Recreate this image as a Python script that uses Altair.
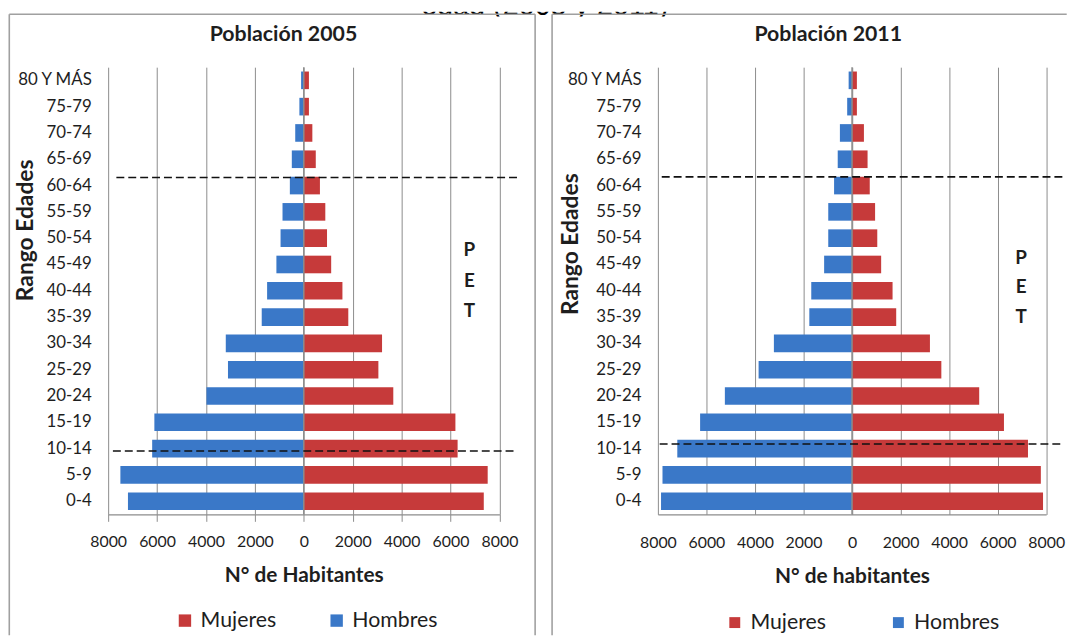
import altair as alt
import pandas as pd

# ---------------- data ----------------
ages = ["0-4", "5-9", "10-14", "15-19", "20-24", "25-29", "30-34", "35-39",
        "40-44", "45-49", "50-54", "55-59", "60-64", "65-69", "70-74",
        "75-79", "80 Y MÁS"]
hombres_2005 = [7190, 7500, 6200, 6110, 3980, 3100, 3190, 1720, 1500, 1120,
                950, 870, 570, 490, 350, 180, 110]
mujeres_2005 = [7360, 7520, 6290, 6200, 3660, 3050, 3200, 1820, 1580, 1120,
                950, 880, 660, 490, 350, 210, 210]
hombres_2011 = [7870, 7810, 7200, 6260, 5240, 3850, 3220, 1760, 1680, 1150,
                980, 980, 740, 590, 500, 200, 140]
mujeres_2011 = [7870, 7780, 7250, 6260, 5240, 3680, 3210, 1820, 1670, 1200,
                1040, 950, 730, 640, 490, 200, 200]
sexos = ["Mujeres", "Hombres"]
colores = ["#C63A3A", "#3A78C8"]
ticks = [-8000, -6000, -4000, -2000, 0, 2000, 4000, 6000, 8000]
caption = "edad (2005 y 2011)"

FONT = "Lato"
TXT = "#1e1e1e"
GRID = "#8c8c8c"
FRAME = "#a0a0a0"
PLOT_H = 451


def panel(hombres, mujeres, p):
    rows = []
    for a, hv, mv in zip(ages, hombres, mujeres):
        rows.append({"edad": a, "sexo": "Hombres", "valor": -hv})
        rows.append({"edad": a, "sexo": "Mujeres", "valor": mv})
    df = pd.DataFrame(rows)
    order = list(reversed(ages))

    x = alt.X(
        "valor:Q",
        scale=alt.Scale(domain=[-8000, 8000], nice=False),
        axis=alt.Axis(
            values=ticks, labelExpr="format(abs(datum.value), 'd')",
            grid=True, gridColor=GRID, gridWidth=1,
            domainColor=GRID, domainWidth=1.5,
            tickColor=GRID, tickSize=p["tickSize"], tickWidth=1,
            labelFont=FONT, labelFontSize=16, labelColor=TXT,
            labelPadding=p["labelPad"], labelFlush=False,
            title=p["xtitle"], titleFont=FONT, titleFontSize=21,
            titleFontWeight="bold", titleColor=TXT,
            titleY=p["xtitleY"], titleBaseline="alphabetic",
        ),
    )
    y = alt.Y(
        "edad:N", sort=order,
        scale=alt.Scale(paddingInner=0.33, paddingOuter=0.165),
        axis=alt.Axis(
            domain=False, ticks=False, grid=False,
            labelFont=FONT, labelFontSize=17, labelColor=TXT,
            labelPadding=17,
            title="Rango Edades", titleFont=FONT, titleFontSize=23,
            titleFontWeight="bold", titleColor=TXT, titleAngle=270,
            titleX=p["ytitleX"], titleY=p["ytitleY"],
            titleAlign="center", titleBaseline="middle",
        ),
    )
    bars = alt.Chart(df).mark_bar().encode(
        x=x, y=y,
        color=alt.Color(
            "sexo:N",
            scale=alt.Scale(domain=sexos, range=colores),
            legend=alt.Legend(
                orient="none", legendX=p["legX"], legendY=p["legY"],
                direction="horizontal", title=None, symbolType="square",
                symbolSize=p["symSize"], symbolStrokeWidth=0,
                labelFont=FONT, labelFontSize=21.5, labelColor=TXT,
                labelOffset=5, columnPadding=p["colPad"], padding=0,
            ),
        ),
    )
    zero = alt.Chart(pd.DataFrame({"valor": [0]})).mark_rule(
        color=GRID, strokeWidth=1.5).encode(x="valor:Q")

    one = pd.DataFrame({"t": [p["title"]]})
    title = alt.Chart(one).mark_text(
        font=FONT, fontSize=21.5, fontWeight="bold", color=TXT,
        align="center", baseline="alphabetic",
    ).encode(x=alt.value(p["titleX"]), y=alt.value(-26.7), text="t:N")

    pet = alt.Chart(pd.DataFrame({"t": [["P", "E", "T"]]})).mark_text(
        font=FONT, fontSize=19, fontWeight="bold", color=TXT,
        align="center", baseline="middle", lineHeight=p["petLH"],
    ).encode(x=alt.value(p["petX"]), y=alt.value(p["petY"]), text="t")

    layers = [bars, zero, title, pet]
    for (x1, x2, yy) in p["dashes"]:
        layers.append(
            alt.Chart(pd.DataFrame({"k": [0]})).mark_rule(
                color="#111111", strokeWidth=1.6, strokeDash=[8, 4]
            ).encode(x=alt.value(x1), x2=alt.value(x2), y=alt.value(yy))
        )
    for (x1, x2, y1, y2) in p["frame"]:
        layers.append(
            alt.Chart(pd.DataFrame({"k": [0]})).mark_rule(
                color=FRAME, strokeWidth=1.6
            ).encode(x=alt.value(x1), x2=alt.value(x2),
                     y=alt.value(y1), y2=alt.value(y2))
        )
    return alt.layer(*layers).properties(width=p["w"], height=PLOT_H)


left = panel(hombres_2005, mujeres_2005, {
    "w": 394.6, "tickSize": 7, "labelPad": 12.5,
    "xtitle": "N° de Habitantes", "xtitleY": 68,
    "ytitleX": -82.9, "ytitleY": 164,
    "legX": 66.7, "legY": 547, "symSize": 156, "colPad": 50,
    "title": "Población 2005", "titleX": 176.8,
    "petX": 364.3, "petY": 184.3, "petLH": 31,
    "dashes": [(8.3, 415.9, 111.3), (4.8, 412.3, 387)],
    "frame": [(-99.7, -99.7, -53.3, 573), (430.6, 430.6, -53.3, 573),
              (-99.7, 430.6, -53.3, -53.3)],
})
right = panel(hombres_2011, mujeres_2011, {
    "w": 391.6, "tickSize": 0, "labelPad": 20,
    "xtitle": "N° de habitantes", "xtitleY": 69,
    "ytitleX": -88.4, "ytitleY": 178,
    "legX": 66.8, "legY": 549, "symSize": 121, "colPad": 62,
    "title": "Población 2011", "titleX": 171.8,
    "petX": 366.3, "petY": 192.7, "petLH": 29.5,
    "dashes": [(3.9, 410.3, 110.6), (1.8, 407.1, 380)],
    "frame": [(-106.7, -106.7, -53.3, 573), (-106.7, 412.3, -53.3, -53.3)],
})

strip = alt.Chart(pd.DataFrame({"t": [caption]})).mark_text(
    clip=True, font="Liberation Sans", fontSize=29, color="#000000",
    align="center", baseline="alphabetic",
).encode(x=alt.value(440.3), y=alt.value(3), text="t:N").properties(
    width=800, height=5)

panels = alt.hconcat(left, right, spacing=159.4, bounds="flush") \
    .resolve_scale(color="independent", x="independent", y="independent") \
    .resolve_legend(color="independent")

chart = alt.vconcat(
    strip, panels, spacing=51, bounds="flush",
).resolve_scale(color="independent") \
 .resolve_legend(color="independent") \
 .properties(padding=0).configure_view(stroke="transparent")

chart.save("out.html", embed_options={"renderer": "svg", "actions": False})
